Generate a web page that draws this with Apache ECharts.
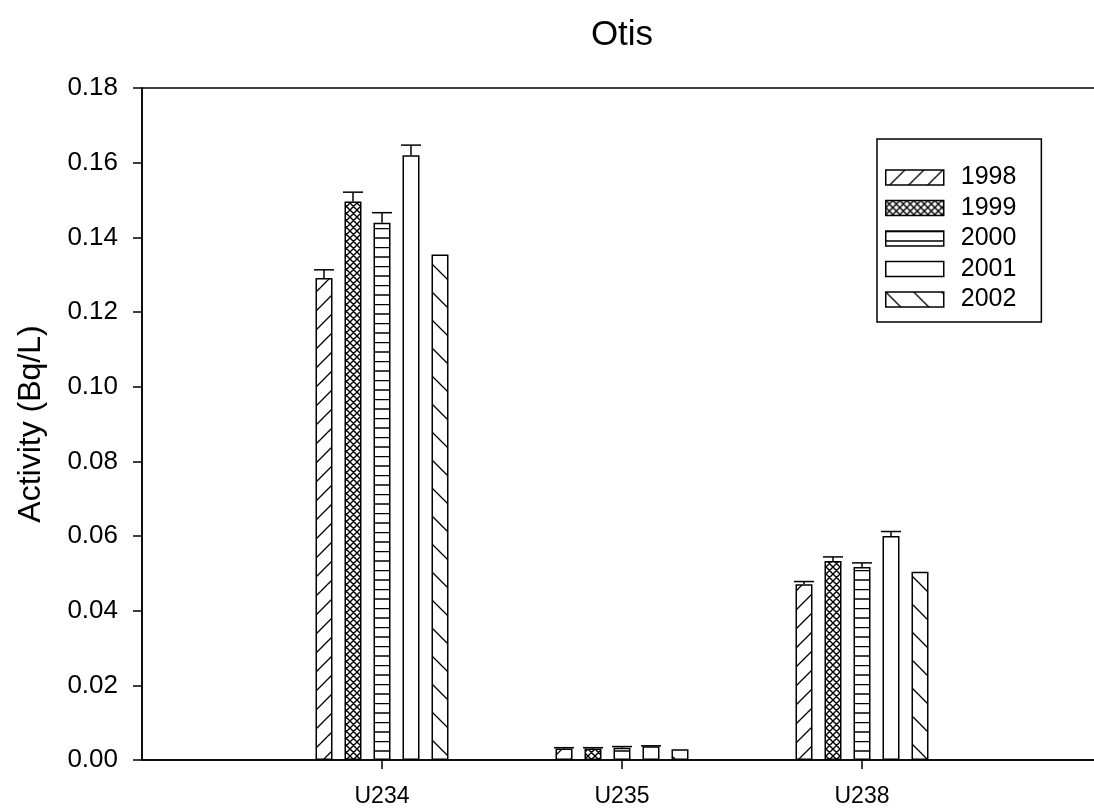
<!DOCTYPE html>
<html>
<head>
<meta charset="utf-8">
<script src="https://cdn.jsdelivr.net/npm/echarts@6/dist/echarts.min.js"></script>
<style>
  html, body { margin: 0; padding: 0; background: #fff; }
  #chart { width: 1094px; height: 809px; }
</style>
</head>
<body>
<div id="chart"></div>
<script>
// Uranium isotope activity by year
const categories = ['', 'U234', 'U235', 'U238', ''];
const years = ['1998', '1999', '2000', '2001', '2002'];
const yTicks = [0, 0.02, 0.04, 0.06, 0.08, 0.10, 0.12, 0.14, 0.16, 0.18];

// Activity (Bq/L) for U234, U235, U238
const act1998 = [0.1291, 0.0031, 0.0471];
const act1999 = [0.1496, 0.0031, 0.0533];
const act2000 = [0.1439, 0.0033, 0.0517];
const act2001 = [0.1620, 0.0037, 0.0600];
const act2002 = [0.1354, 0.0029, 0.0504];

// Upper error (standard deviation)
const err1998 = [0.0022, 0.0002, 0.0007];
const err1999 = [0.0025, 0.0002, 0.0011];
const err2000 = [0.0027, 0.0003, 0.0011];
const err2001 = [0.0027, 0.0001, 0.0012];
const err2002 = [0, 0, 0];

const activities = [act1998, act1999, act2000, act2001, act2002];
const errors = [err1998, err1999, err2000, err2001, err2002];

const FONT = "'Liberation Sans', Arial, sans-serif";
const BAR_W = 17;
const BAR_PITCH = 29;

// Hatch fills
function tile(w, h, lw, draw) {
  const c = document.createElement('canvas');
  c.width = w; c.height = h;
  const ctx = c.getContext('2d');
  ctx.fillStyle = '#fff';
  ctx.fillRect(0, 0, w, h);
  ctx.strokeStyle = '#000';
  ctx.lineWidth = lw;
  ctx.beginPath();
  draw(ctx, w, h);
  ctx.stroke();
  return { image: c, repeat: 'repeat' };
}
function slash(ctx, s) {
  ctx.moveTo(0, s); ctx.lineTo(s, 0);
  ctx.moveTo(-s / 4, s / 4); ctx.lineTo(s / 4, -s / 4);
  ctx.moveTo(3 * s / 4, 5 * s / 4); ctx.lineTo(5 * s / 4, 3 * s / 4);
}
function backslash(ctx, s) {
  ctx.moveTo(0, 0); ctx.lineTo(s, s);
  ctx.moveTo(-s / 4, 3 * s / 4); ctx.lineTo(s / 4, 5 * s / 4);
  ctx.moveTo(3 * s / 4, -s / 4); ctx.lineTo(5 * s / 4, s / 4);
}
const fills = [
  tile(19, 19, 1.3, (ctx, w) => slash(ctx, w)),
  tile(7, 7, 1.4, (ctx, w) => { slash(ctx, w); backslash(ctx, w); }),
  tile(8, 19, 1.3, (ctx, w) => { ctx.moveTo(0, 0.5); ctx.lineTo(w, 0.5); ctx.moveTo(0, 10); ctx.lineTo(w, 10); }),
  '#fff',
  tile(28, 28, 1.3, (ctx, w) => backslash(ctx, w))
];

const barSeries = years.map((y, i) => ({
  name: y,
  type: 'bar',
  barWidth: BAR_W,
  barGap: ((BAR_PITCH - BAR_W) / BAR_W * 100) + '%',
  data: categories.map((c, k) => (k >= 1 && k <= 3) ? activities[i][k - 1] : null),
  itemStyle: { color: fills[i], borderColor: '#000', borderWidth: 1.5 },
  z: 2
}));

const errSeries = years.map((y, i) => ({
  name: y + ' error',
  type: 'custom',
  z: 3,
  data: [1, 2, 3].map(k => [k, activities[i][k - 1], errors[i][k - 1]]),
  renderItem: function (params, api) {
    const e = api.value(2);
    if (!e) return null;
    const base = api.coord([api.value(0), api.value(1)]);
    const top = api.coord([api.value(0), api.value(1) + e]);
    const cx = base[0] + (i - 2) * BAR_PITCH;
    const st = { stroke: '#000', lineWidth: 1.5 };
    return {
      type: 'group',
      children: [
        { type: 'line', shape: { x1: cx, y1: base[1], x2: cx, y2: top[1] }, style: st },
        { type: 'line', shape: { x1: cx - 10, y1: top[1], x2: cx + 10, y2: top[1] }, style: st }
      ]
    };
  }
}));

const chart = echarts.init(document.getElementById('chart'), null, { renderer: 'canvas' });
chart.setOption({
  animation: false,
  backgroundColor: '#fff',
  textStyle: { fontFamily: FONT, color: '#000' },
  title: {
    text: 'Otis',
    left: 617,
    top: 13,
    textAlign: 'center',
    textStyle: { fontFamily: FONT, fontSize: 35, fontWeight: 'normal', color: '#000' }
  },
  legend: {
    data: years,
    orient: 'vertical',
    left: 877,
    top: 139,
    padding: [26, 25, 10, 8],
    itemWidth: 58,
    itemHeight: 15,
    itemGap: 5.5,
    icon: 'rect',
    borderColor: '#000',
    borderWidth: 1.5,
    backgroundColor: '#fff',
    itemStyle: { borderColor: '#000', borderWidth: 1.5 },
    textStyle: { fontFamily: FONT, fontSize: 25, color: '#000', padding: [0, 0, 0, 12] }
  },
  grid: {
    left: 142,
    top: 88,
    width: 960,
    height: 672,
    outerBoundsMode: 'none',
    containLabel: false,
    show: true,
    borderColor: '#000',
    borderWidth: 1.5,
    backgroundColor: 'transparent'
  },
  xAxis: {
    type: 'category',
    data: categories,
    boundaryGap: false,
    axisLine: { lineStyle: { color: '#000', width: 1.5 } },
    axisTick: { show: true, length: 9, lineStyle: { color: '#000', width: 1.5 }, interval: (idx, val) => val !== '' },
    axisLabel: { interval: 0, margin: 25, fontFamily: FONT, fontSize: 23, color: '#000' },
    splitLine: { show: false }
  },
  yAxis: {
    type: 'value',
    min: yTicks[0],
    max: yTicks[yTicks.length - 1],
    interval: 0.02,
    name: 'Activity (Bq/L)',
    nameLocation: 'middle',
    nameGap: 95,
    nameTextStyle: { fontFamily: FONT, fontSize: 32, color: '#000' },
    axisLine: { show: true, lineStyle: { color: '#000', width: 1.5 } },
    axisTick: { show: true, length: 9, lineStyle: { color: '#000', width: 1.5 } },
    axisLabel: { margin: 24, fontFamily: FONT, fontSize: 26, color: '#000', formatter: v => v.toFixed(2) },
    splitLine: { show: false }
  },
  series: barSeries.concat(errSeries)
});
</script>
</body>
</html>
